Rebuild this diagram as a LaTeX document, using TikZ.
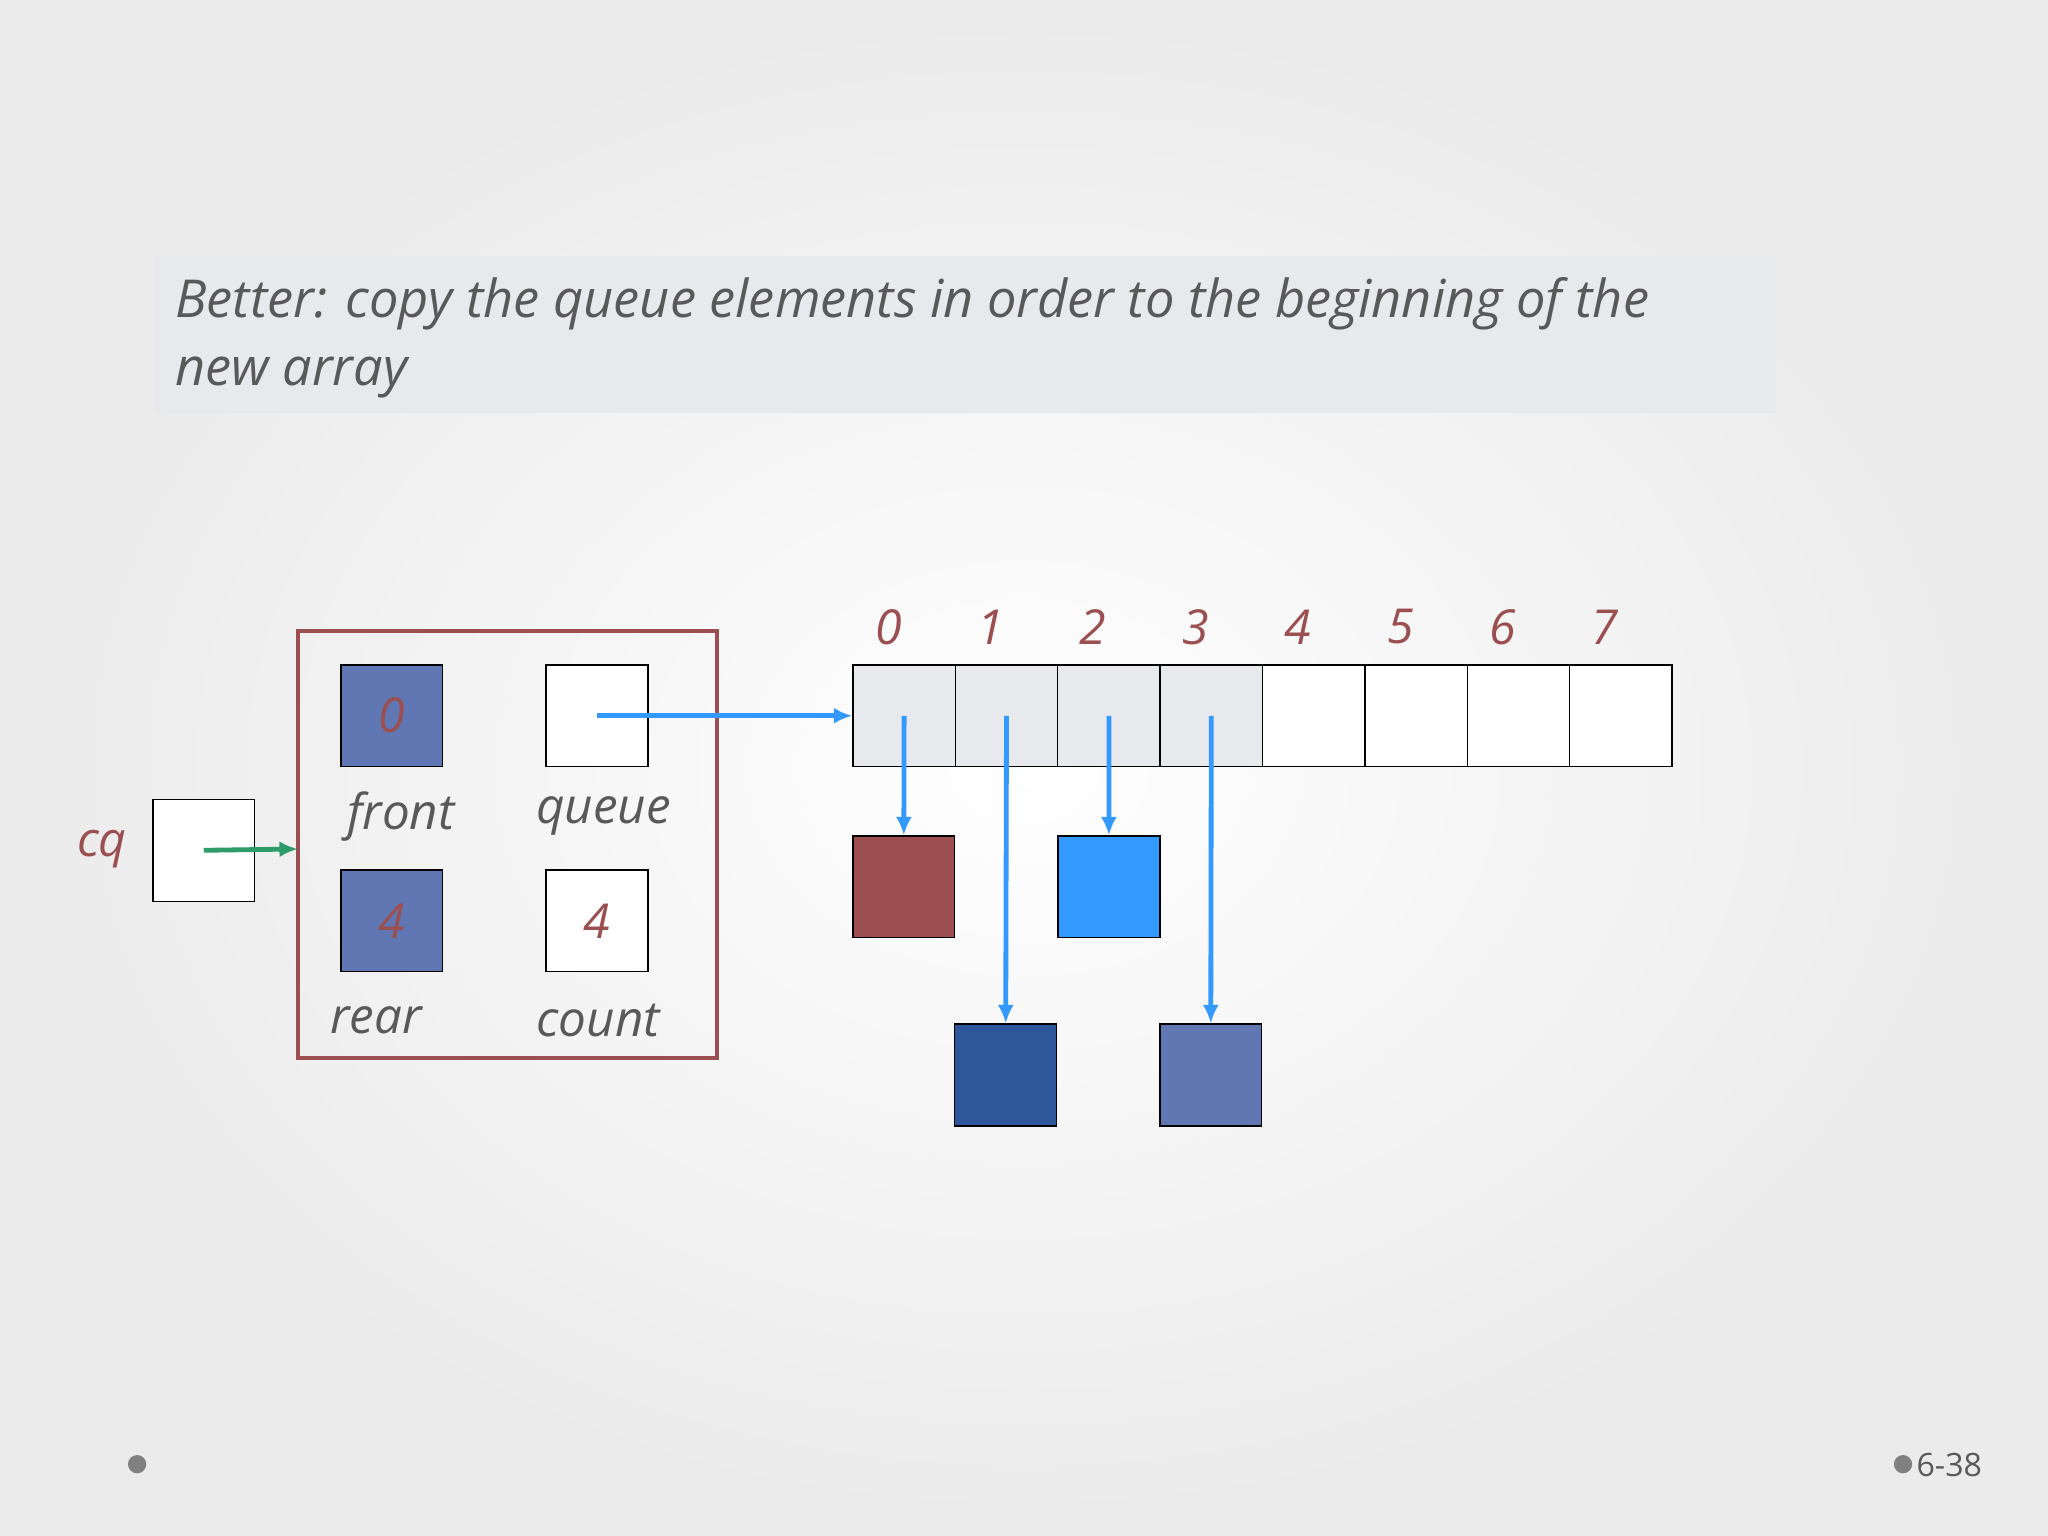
\documentclass[tikz,border=0pt]{standalone}
\usepackage{fontspec}
\usetikzlibrary{arrows.meta}
\setmainfont{Open Sans}
\definecolor{rd}{HTML}{9B4F50}
\definecolor{bl}{HTML}{3399FF}
\definecolor{sl}{HTML}{6077B3}
\definecolor{db}{HTML}{2E579B}
\definecolor{gr}{HTML}{2E9B6B}
\definecolor{tg}{HTML}{595959}
\definecolor{pale}{HTML}{E8E9EC}
\begin{document}
\begin{tikzpicture}[x=0.02cm,y=-0.02cm,
  cell/.style={draw=black,line width=0.6pt,minimum size=1.56cm,inner sep=0pt,font=\fontsize{21}{24}\selectfont\itshape,text=rd},
  lab/.style={font=\fontsize{21.5}{24}\selectfont\itshape,text=tg,inner sep=0pt},
  idx/.style={font=\fontsize{21}{24}\selectfont\itshape,text=rd,inner sep=0pt},
  barr/.style={draw=bl,line width=2.1pt,-{Latex[length=8pt,width=7pt]}},
]
\useasboundingbox (0,0) rectangle (1568,1176);
\shade[inner color=white,outer color=black!8] (0,0) rectangle (1568,1176);
\fill[pale] (118,196) rectangle (1360,316);
\node[anchor=north west,align=left,text=tg,font=\fontsize{22.8}{29.5}\selectfont\itshape,inner sep=0pt] (title) at (134,212)
 {Better: copy the queue elements in order to the beginning of the\\new array};
% struct
\draw[rd,line width=1.8pt] (228,483) rectangle (549,810);
\node[cell,fill=sl] (front) at (300,548) {0};
\node[cell,fill=white] (queue) at (457,548) {};
\node[cell,fill=sl] (rear) at (300,705) {4};
\node[cell,fill=white] (count) at (457,705) {4};
\node[lab] at (307,625) {front};
\node[lab] at (462,625) {queue};
\node[lab] at (288,781) {rear};
\node[lab] at (458,781) {count};
\coordinate (sl) at (228,650);
\node[cell,fill=white] (cq) at (156,651) {};
\node[idx] at (78,650) {cq};
\draw[gr,line width=2.1pt,-{Latex[length=8pt,width=7pt]}] (cq.center) -- (sl);
% array
\foreach \i in {0,...,7}{
  \pgfmathsetmacro\xx{653+39.2+78.4*\i}
  \ifnum\i<4 \def\fc{pale}\else\def\fc{white}\fi
  \node[cell,fill=\fc,minimum width=1.568cm] (a\i) at (\xx,548) {};
  \node[idx] at (\xx-12,480) {\i};
}
\draw[barr] (queue.center) -- (a0.west);
\node[cell,fill=rd] (e0) at (692,679) {};
\node[cell,fill=db] (e1) at (770,823) {};
\node[cell,fill=bl] (e2) at (849,679) {};
\node[cell,fill=sl] (e3) at (927,823) {};
\foreach \i in {0,...,3}{\draw[barr] (a\i.center) -- (e\i.north);}
\fill[gray] (105,1121) circle (7);
\fill[gray] (1457,1121) circle (7);
\node[anchor=west,text=tg,font=\fontsize{14}{16}\selectfont,inner sep=0pt] at (1467,1122) {6-38};
\end{tikzpicture}
\end{document}
